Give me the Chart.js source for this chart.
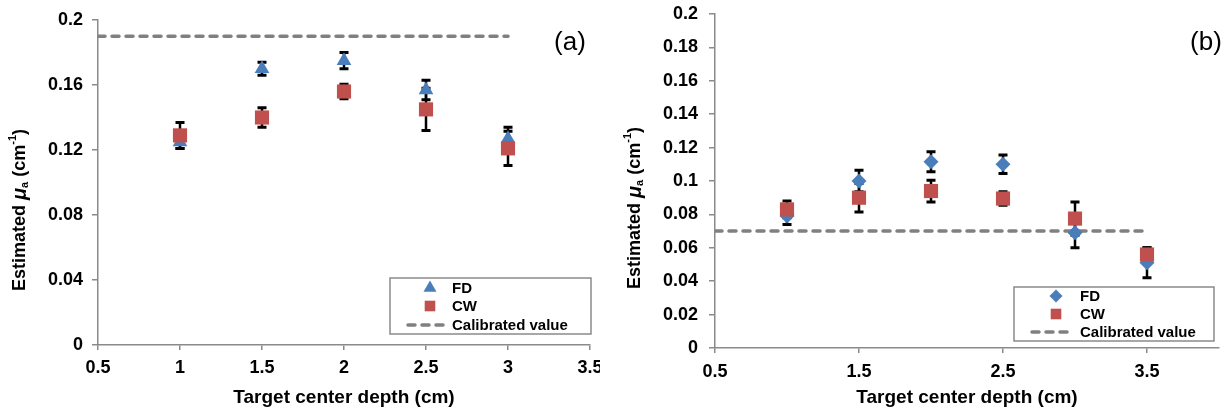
<!DOCTYPE html>
<html>
<head>
<meta charset="utf-8">
<script src="https://cdn.jsdelivr.net/npm/chart.js@4.4.1/dist/chart.umd.min.js"></script>
<style>
  body { margin: 0; background: #fff; }
  #wrap { position: relative; width: 1229px; height: 416px; }
  .panel { position: absolute; top: 0; height: 416px; overflow: hidden; }
</style>
</head>
<body>
<div id="wrap">
  <div class="panel" style="left:0;width:600px"><canvas id="chart_a" width="600" height="416"></canvas></div>
  <div class="panel" style="left:610px;width:619px"><canvas id="chart_b" width="619" height="416"></canvas></div>
</div>
<script>
// panel (a)
var depthA = [1, 1.5, 2, 2.5, 3];
var fdA = [0.125, 0.170, 0.175, 0.157, 0.127];
var fdErrA = [0.004, 0.004, 0.005, 0.006, 0.007];
var cwA = [0.129, 0.140, 0.156, 0.145, 0.121];
var cwErrA = [0.008, 0.006, 0.0045, 0.013, 0.0105];
var calA = 0.19;
var calRangeA = [0.5, 3];
var xTicksA = [0.5, 1, 1.5, 2, 2.5, 3, 3.5];
var yTicksA = [0, 0.04, 0.08, 0.12, 0.16, 0.2];

// panel (b)
var depthB = [1, 1.5, 2, 2.5, 3, 3.5];
var fdB = [0.079, 0.100, 0.1115, 0.110, 0.069, 0.051];
var fdErrB = [0.005, 0.0065, 0.006, 0.0055, 0.009, 0.009];
var cwB = [0.083, 0.090, 0.094, 0.0895, 0.0775, 0.056];
var cwErrB = [0.005, 0.0085, 0.0065, 0.004, 0.010, 0.004];
var calB = 0.07;
var calRangeB = [0.5, 3.5];
var xTicksB = [0.5, 1.5, 2.5, 3.5];
var yTicksB = [0, 0.02, 0.04, 0.06, 0.08, 0.1, 0.12, 0.14, 0.16, 0.18, 0.2];

var FONT = "'Liberation Sans', Arial, sans-serif";
var BLUE = '#4A7EBB';
var RED = '#C0504D';
var GREY = '#808080';
var AXIS = '#8a8a8a';

Chart.defaults.font.family = FONT;
Chart.defaults.color = '#000';

function fmt(v) { return String(+(+v).toFixed(4)); }

function pts(xs, ys) {
    return xs.map(function (x, i) { return {x: x, y: ys[i]}; });
}

function drawMarker(ctx, style, x, y, r, color) {
    ctx.save();
    ctx.fillStyle = color;
    ctx.beginPath();
    if (style == 'triangle') {
        ctx.moveTo(x, y - r);
        ctx.lineTo(x + r * 0.866, y + r * 0.5);
        ctx.lineTo(x - r * 0.866, y + r * 0.5);
    } else if (style == 'rectRot') {
        ctx.moveTo(x - r, y);
        ctx.lineTo(x, y - r);
        ctx.lineTo(x + r, y);
        ctx.lineTo(x, y + r);
    } else {
        var s = r * Math.SQRT1_2;
        ctx.rect(x - s, y - s, 2 * s, 2 * s);
    }
    ctx.closePath();
    ctx.fill();
    ctx.restore();
}

// error bars go under the markers
var errorBars = {
    id: 'errorBars',
    beforeDatasetsDraw: function (chart) {
        var ctx = chart.ctx, xs = chart.scales.x, ys = chart.scales.y;
        ctx.save();
        ctx.strokeStyle = '#000';
        chart.data.datasets.forEach(function (ds) {
            if (!ds.errors) return;
            ds.data.forEach(function (p, i) {
                var x = Math.round(xs.getPixelForValue(p.x));
                var lo = ys.getPixelForValue(p.y - ds.errors[i]);
                var hi = ys.getPixelForValue(p.y + ds.errors[i]);
                ctx.lineWidth = 2.5;
                ctx.beginPath();
                ctx.moveTo(x, lo); ctx.lineTo(x, hi);
                ctx.stroke();
                ctx.lineWidth = 3;
                ctx.beginPath();
                ctx.moveTo(x - 4.5, lo); ctx.lineTo(x + 4.5, lo);
                ctx.moveTo(x - 4.5, hi); ctx.lineTo(x + 4.5, hi);
                ctx.stroke();
            });
        });
        ctx.restore();
    }
};

// y title with italic mu, subscript and superscript, plus panel tag and legend box
var extras = {
    id: 'extras',
    afterDraw: function (chart, args, opts) {
        var ctx = chart.ctx, area = chart.chartArea;

        // y axis title
        var parts = [
            {t: 'Estimated ', f: 'bold 18px ' + FONT, dy: 0},
            {t: 'μ', f: 'bold italic 20px ' + FONT, dy: 0},
            {t: 'a', f: 'bold 11px ' + FONT, dy: 5},
            {t: ' (cm', f: 'bold 18px ' + FONT, dy: 0},
            {t: '-1', f: 'bold 11px ' + FONT, dy: -7},
            {t: ')', f: 'bold 18px ' + FONT, dy: 0}
        ];
        ctx.save();
        var total = 0;
        parts.forEach(function (p) { ctx.font = p.f; p.w = ctx.measureText(p.t).width; total += p.w; });
        ctx.translate(opts.titleX, opts.titleY);
        ctx.rotate(-Math.PI / 2);
        ctx.fillStyle = '#000';
        ctx.textBaseline = 'middle';
        var cx = -total / 2;
        parts.forEach(function (p) {
            ctx.font = p.f;
            ctx.fillText(p.t, cx, p.dy);
            cx += p.w;
        });
        ctx.restore();

        // panel tag
        ctx.save();
        ctx.font = '26px ' + FONT;
        ctx.fillStyle = '#000';
        ctx.textAlign = 'center';
        ctx.textBaseline = 'middle';
        ctx.fillText(opts.tag, opts.tagX, opts.tagY);
        ctx.restore();

        // legend box
        var lb = opts.legend;
        var left = area.right + lb.dx - lb.w;
        var top = area.bottom + lb.dy - lb.h;
        ctx.save();
        ctx.fillStyle = '#fff';
        ctx.fillRect(left, top, lb.w, lb.h);
        ctx.strokeStyle = AXIS;
        ctx.lineWidth = 1.5;
        ctx.strokeRect(left, top, lb.w, lb.h);
        ctx.font = 'bold 15px ' + FONT;
        ctx.textBaseline = 'middle';
        ctx.fillStyle = '#000';
        var ds = chart.data.datasets;
        for (var i = 0; i < ds.length; i++) {
            var y = top + lb.rows[i];
            if (ds[i].showLine) {
                ctx.save();
                ctx.strokeStyle = ds[i].borderColor;
                ctx.lineWidth = 3.5;
                ctx.lineCap = 'round';
                ctx.setLineDash([7, 7]);
                ctx.beginPath();
                ctx.moveTo(left + 18, y); ctx.lineTo(left + 56, y);
                ctx.stroke();
                ctx.restore();
            } else {
                drawMarker(ctx, ds[i].pointStyle, left + lb.mx, y, ds[i].legendR, ds[i].backgroundColor);
            }
            ctx.fillText(ds[i].label, left + lb.tx, y + 1);
        }
        ctx.restore();
    }
};

function makeChart(id, d) {
    return new Chart(document.getElementById(id), {
        type: 'scatter',
        data: {
            datasets: [{
                label: 'FD',
                data: pts(d.depth, d.fd),
                errors: d.fdErr,
                pointStyle: d.fdStyle,
                pointRadius: d.fdR,
                legendR: d.fdLegendR,
                backgroundColor: BLUE,
                borderColor: BLUE,
                borderWidth: 0,
                order: 1
            }, {
                label: 'CW',
                data: pts(d.depth, d.cw),
                errors: d.cwErr,
                pointStyle: 'rect',
                pointRadius: 10,
                legendR: 7.5,
                backgroundColor: RED,
                borderColor: RED,
                borderWidth: 0,
                order: 0
            }, {
                label: 'Calibrated value',
                data: pts(d.calRange, [d.cal, d.cal]),
                showLine: true,
                pointRadius: 0,
                borderColor: GREY,
                borderWidth: 3.5,
                borderDash: [7, 7],
                borderCapStyle: 'round',
                order: 2
            }]
        },
        options: {
            responsive: false,
            devicePixelRatio: 1,
            animation: false,
            layout: {
                padding: {left: 0, right: d.padRight, top: d.padTop, bottom: 0}
            },
            plugins: {
                legend: {display: false},
                tooltip: {enabled: false},
                extras: d.extras
            },
            scales: {
                x: {
                    type: 'linear',
                    min: d.xTicks[0],
                    max: d.xMax,
                    afterBuildTicks: function (s) { s.ticks = d.xTicks.map(function (v) { return {value: v}; }); },
                    afterFit: function (s) { s.height = d.xHeight; s.paddingLeft = 0; s.paddingRight = 0; },
                    border: {display: true, color: AXIS, width: 1.5},
                    grid: {drawOnChartArea: false, drawTicks: true, tickLength: 5, color: AXIS, lineWidth: 1.5},
                    ticks: {
                        padding: d.xTickPad,
                        font: {size: 18, weight: 'bold'},
                        color: '#000',
                        maxRotation: 0,
                        callback: fmt
                    },
                    title: {
                        display: true,
                        text: 'Target center depth (cm)',
                        font: {size: 19, weight: 'bold'},
                        color: '#000',
                        padding: {top: 0, bottom: 7}
                    }
                },
                y: {
                    type: 'linear',
                    min: 0,
                    max: 0.2,
                    afterBuildTicks: function (s) { s.ticks = d.yTicks.map(function (v) { return {value: v}; }); },
                    afterFit: function (s) { s.width = d.yWidth; s.paddingTop = 0; s.paddingBottom = 0; },
                    border: {display: true, color: AXIS, width: 1.5},
                    grid: {drawOnChartArea: false, drawTicks: true, tickLength: 6, color: AXIS, lineWidth: 1.5},
                    ticks: {
                        padding: d.yTickPad,
                        font: {size: 18, weight: 'bold'},
                        color: '#000',
                        callback: fmt
                    }
                }
            }
        },
        plugins: [errorBars, extras]
    });
}

makeChart('chart_a', {
    depth: depthA, fd: fdA, fdErr: fdErrA, cw: cwA, cwErr: cwErrA,
    cal: calA, calRange: calRangeA, xTicks: xTicksA, yTicks: yTicksA, xMax: 3.5,
    fdStyle: 'triangle', fdR: 8.5, fdLegendR: 7.5,
    padRight: 9, padTop: 20, xHeight: 71, yWidth: 98, xTickPad: 7, yTickPad: 9,
    extras: {
        titleX: 20, titleY: 210, tag: '(a)', tagX: 570, tagY: 43,
        legend: {w: 201, h: 56, dx: 1, dy: -11, mx: 40, tx: 62, rows: [10, 28, 47]}
    }
});

makeChart('chart_b', {
    depth: depthB, fd: fdB, fdErr: fdErrB, cw: cwB, cwErr: cwErrB,
    cal: calB, calRange: calRangeB, xTicks: xTicksB, yTicks: yTicksB, xMax: 4,
    fdStyle: 'rectRot', fdR: 7.5, fdLegendR: 6.5,
    padRight: 1, padTop: 14, xHeight: 68, yWidth: 105, xTickPad: 8, yTickPad: 11,
    extras: {
        titleX: 25, titleY: 208, tag: '(b)', tagX: 596, tagY: 43,
        legend: {w: 200, h: 54, dx: -5, dy: -7, mx: 42, tx: 66, rows: [9, 27, 45]}
    }
});
</script>
</body>
</html>
